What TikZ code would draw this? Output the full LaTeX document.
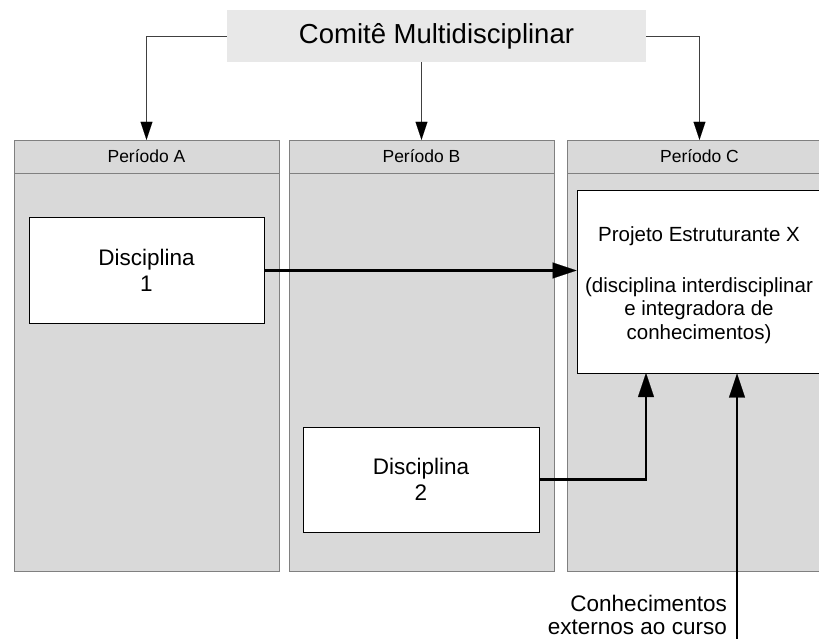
\documentclass[tikz,border=0pt]{standalone}
\usepackage{fontspec}
\setmainfont{Liberation Sans}
\usetikzlibrary{arrows.meta}

\definecolor{comitegray}{RGB}{232,232,232}
\definecolor{colgray}{RGB}{217,217,217}
\definecolor{edgegray}{RGB}{128,128,128}

\begin{document}
\begin{tikzpicture}[x=1pt,y=-1pt,
  col/.style={draw=edgegray, fill=colgray, minimum width=265pt, minimum height=431pt, inner sep=0pt},
  hdr/.style={draw=edgegray, fill=colgray, minimum width=265pt, minimum height=33pt, inner sep=0pt, font=\fontsize{17.5}{20}\selectfont},
  disc/.style={draw, fill=white, line width=1pt, align=center, inner sep=0pt, font=\fontsize{22.5}{26}\selectfont},
  thin/.style={draw=black!75, line width=0.8pt, -{Triangle[length=18pt,width=12pt,color=black,line width=0.1pt]}},
  thick/.style={line width=2.6pt, -{Triangle[length=24pt,width=16pt,line width=0.1pt]}}]

\useasboundingbox (0,0) rectangle (819,639);
\clip (0,0) rectangle (819,639);

\node[fill=comitegray, minimum width=419pt, minimum height=52pt, inner sep=0pt, font=\fontsize{27.5}{32}\selectfont] (comite) at (436.5,36) {Comitê Multidisciplinar};

% periodos
\node[col] (colA) at (146.5,355.5) {};
\node[col] (colB) at (421.5,355.5) {};
\node[col] (colC) at (699.5,355.5) {};
\node[hdr, anchor=north] (hdrA) at (colA.north) {Período A};
\node[hdr, anchor=north] (hdrB) at (colB.north) {Período B};
\node[hdr, anchor=north] (hdrC) at (colC.north) {Período C};

% disciplinas
\node[disc, minimum width=235pt, minimum height=105pt] (d1) at (146.5,270.5) {Disciplina\\1};
\node[disc, minimum width=236pt, minimum height=105pt] (d2) at (421,479.5) {Disciplina\\2};
\node[disc, minimum width=244pt, minimum height=182pt] (proj) at (699,282) {};
\node[align=center, inner sep=0pt, font=\fontsize{20.5}{23.5}\selectfont] (projtxt) at (699,285)
  {Projeto Estruturante X\\[27pt](disciplina interdisciplinar\\e integradora de\\conhecimentos)};

\node[align=right, anchor=east, inner sep=0pt, font=\fontsize{22.5}{23}\selectfont] (ext) at (727,615) {Conhecimentos\\externos ao curso};
\coordinate (extsrc) at (737,640);
\coordinate (in2) at (646,373);

\draw[thin] (comite.west) -| (hdrA.north);
\draw[thin] (comite.south -| hdrB.north) -- (hdrB.north);
\draw[thin] (comite.east) -| (hdrC.north);

\draw[thick] (d1.east) -- (d1.east -| proj.west);
\draw[thick] (d2.east) -| (in2);
\draw[thick] (extsrc) -- (extsrc |- proj.south);
\end{tikzpicture}
\end{document}
